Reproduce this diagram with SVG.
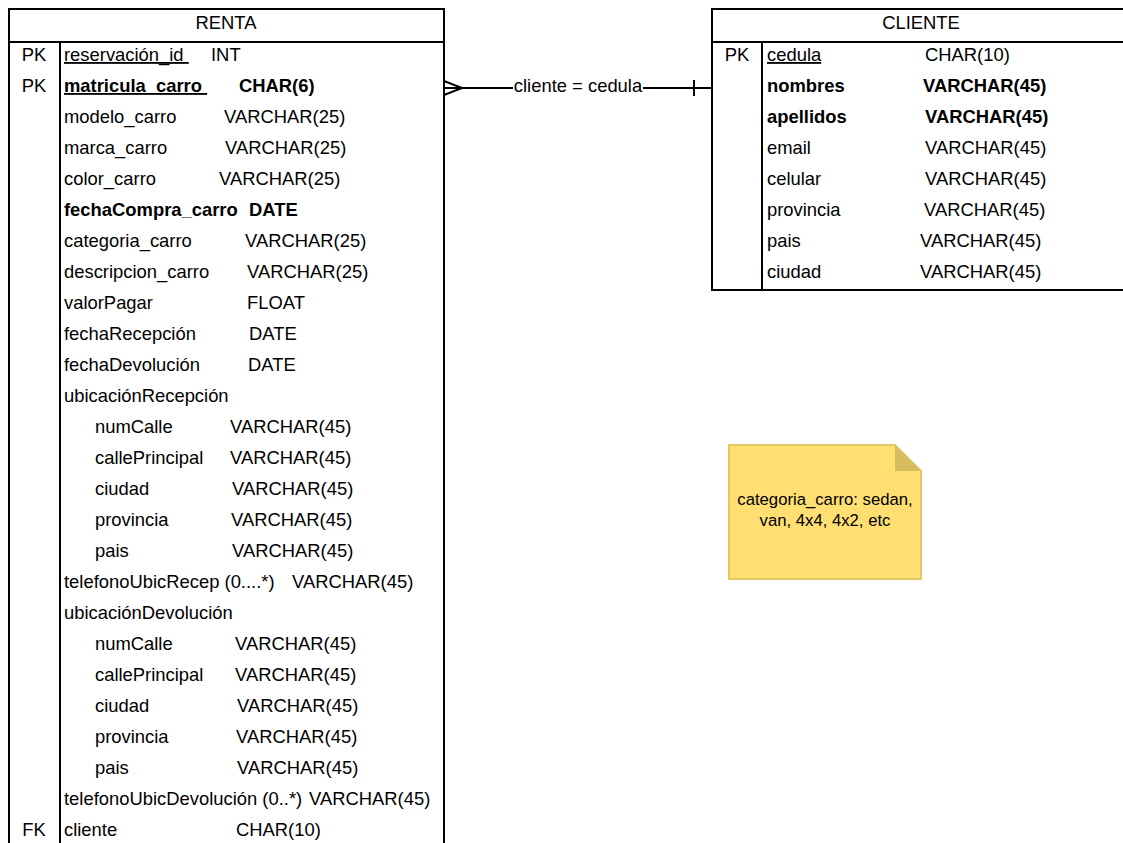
<svg xmlns="http://www.w3.org/2000/svg" width="1123" height="843" viewBox="0 0 1123 843">
<style>
text{font-family:"Liberation Sans",Arial,sans-serif;font-size:18.4px;fill:#000}
.b{font-weight:bold}
.u{text-decoration:underline}
.c{text-anchor:middle}
.tbl{fill:#fff;stroke:#000;stroke-width:2}
.ln{stroke:#000;stroke-width:2;fill:none}
.note{font-size:16.7px}
</style>
<rect width="1123" height="843" fill="#fff"/>
<g id="renta">
<rect class="tbl" x="9" y="9" width="435" height="850"/>
<line class="ln" x1="9" y1="42" x2="444" y2="42"/>
<line class="ln" x1="60" y1="42" x2="60" y2="850"/>
<text class="c" x="226" y="29">RENTA</text>
<text class="c" x="34" y="61">PK</text>
<text x="64" y="61"><tspan class="u">reservación_id&#160;</tspan></text><text x="211" y="61">INT</text>
<text class="c" x="34" y="92">PK</text>
<text class="b" x="64" y="92"><tspan class="u">matricula_carro&#160;</tspan></text><text class="b" x="239" y="92">CHAR(6)</text>
<text x="64" y="123">modelo_carro</text><text x="224" y="123">VARCHAR(25)</text>
<text x="64" y="154">marca_carro</text><text x="225" y="154">VARCHAR(25)</text>
<text x="64" y="185">color_carro</text><text x="219" y="185">VARCHAR(25)</text>
<text class="b" x="64" y="216">fechaCompra_carro</text><text class="b" x="249" y="216">DATE</text>
<text x="64" y="247">categoria_carro</text><text x="245" y="247">VARCHAR(25)</text>
<text x="64" y="278">descripcion_carro</text><text x="247" y="278">VARCHAR(25)</text>
<text x="64" y="309">valorPagar</text><text x="247" y="309">FLOAT</text>
<text x="64" y="340">fechaRecepción</text><text x="249" y="340">DATE</text>
<text x="64" y="371">fechaDevolución</text><text x="248" y="371">DATE</text>
<text x="64" y="402">ubicaciónRecepción</text>
<text x="95" y="433">numCalle</text><text x="230" y="433">VARCHAR(45)</text>
<text x="95" y="464">callePrincipal</text><text x="230" y="464">VARCHAR(45)</text>
<text x="95" y="495">ciudad</text><text x="232" y="495">VARCHAR(45)</text>
<text x="95" y="526">provincia</text><text x="231" y="526">VARCHAR(45)</text>
<text x="95" y="557">pais</text><text x="232" y="557">VARCHAR(45)</text>
<text x="64" y="588">telefonoUbicRecep (0....*)</text><text x="292" y="588">VARCHAR(45)</text>
<text x="64" y="619">ubicaciónDevolución</text>
<text x="95" y="650">numCalle</text><text x="235" y="650">VARCHAR(45)</text>
<text x="95" y="681">callePrincipal</text><text x="235" y="681">VARCHAR(45)</text>
<text x="95" y="712">ciudad</text><text x="237" y="712">VARCHAR(45)</text>
<text x="95" y="743">provincia</text><text x="236" y="743">VARCHAR(45)</text>
<text x="95" y="774">pais</text><text x="237" y="774">VARCHAR(45)</text>
<text x="64" y="805">telefonoUbicDevolución (0..*)</text><text x="309" y="805">VARCHAR(45)</text>
<text class="c" x="34" y="836">FK</text>
<text x="64" y="836">cliente</text><text x="236" y="836">CHAR(10)</text>
</g>
<g id="cliente">
<rect class="tbl" x="712" y="9" width="420" height="281"/>
<line class="ln" x1="712" y1="42" x2="1132" y2="42"/>
<line class="ln" x1="762" y1="42" x2="762" y2="290"/>
<text class="c" x="921" y="29">CLIENTE</text>
<text class="c" x="737" y="61">PK</text>
<text x="767" y="61"><tspan class="u">cedula</tspan></text><text x="925" y="61">CHAR(10)</text>
<text class="b" x="767" y="92">nombres</text><text class="b" x="923" y="92">VARCHAR(45)</text>
<text class="b" x="767" y="123">apellidos</text><text class="b" x="925" y="123">VARCHAR(45)</text>
<text x="767" y="154">email</text><text x="925" y="154">VARCHAR(45)</text>
<text x="767" y="185">celular</text><text x="925" y="185">VARCHAR(45)</text>
<text x="767" y="216">provincia</text><text x="924" y="216">VARCHAR(45)</text>
<text x="767" y="247">pais</text><text x="920" y="247">VARCHAR(45)</text>
<text x="767" y="278">ciudad</text><text x="920" y="278">VARCHAR(45)</text>
</g>
<g id="note">
<path d="M729,445 H895 L921,471 V579 H729 Z" fill="#ffdf71" stroke="#e3c866" stroke-width="2"/>
<path d="M895,445 L921,471 H895 Z" fill="#d6bd5e"/>
<text class="c note" x="825" y="505">categoria_carro: sedan,</text>
<text class="c note" x="825" y="526">van, 4x4, 4x2, etc</text>
</g>
<g id="connectors">
<line class="ln" x1="444" y1="88" x2="712" y2="88" stroke-width="1.5"/>
<path class="ln" d="M444,81 L462,88 L444,95" stroke-width="1.5"/>
<line class="ln" x1="694" y1="80" x2="694" y2="96"/>
<rect x="513" y="76" width="130" height="22" fill="#fff"/>
<text class="c" x="578" y="92">cliente = cedula</text>
</g>
</svg>
